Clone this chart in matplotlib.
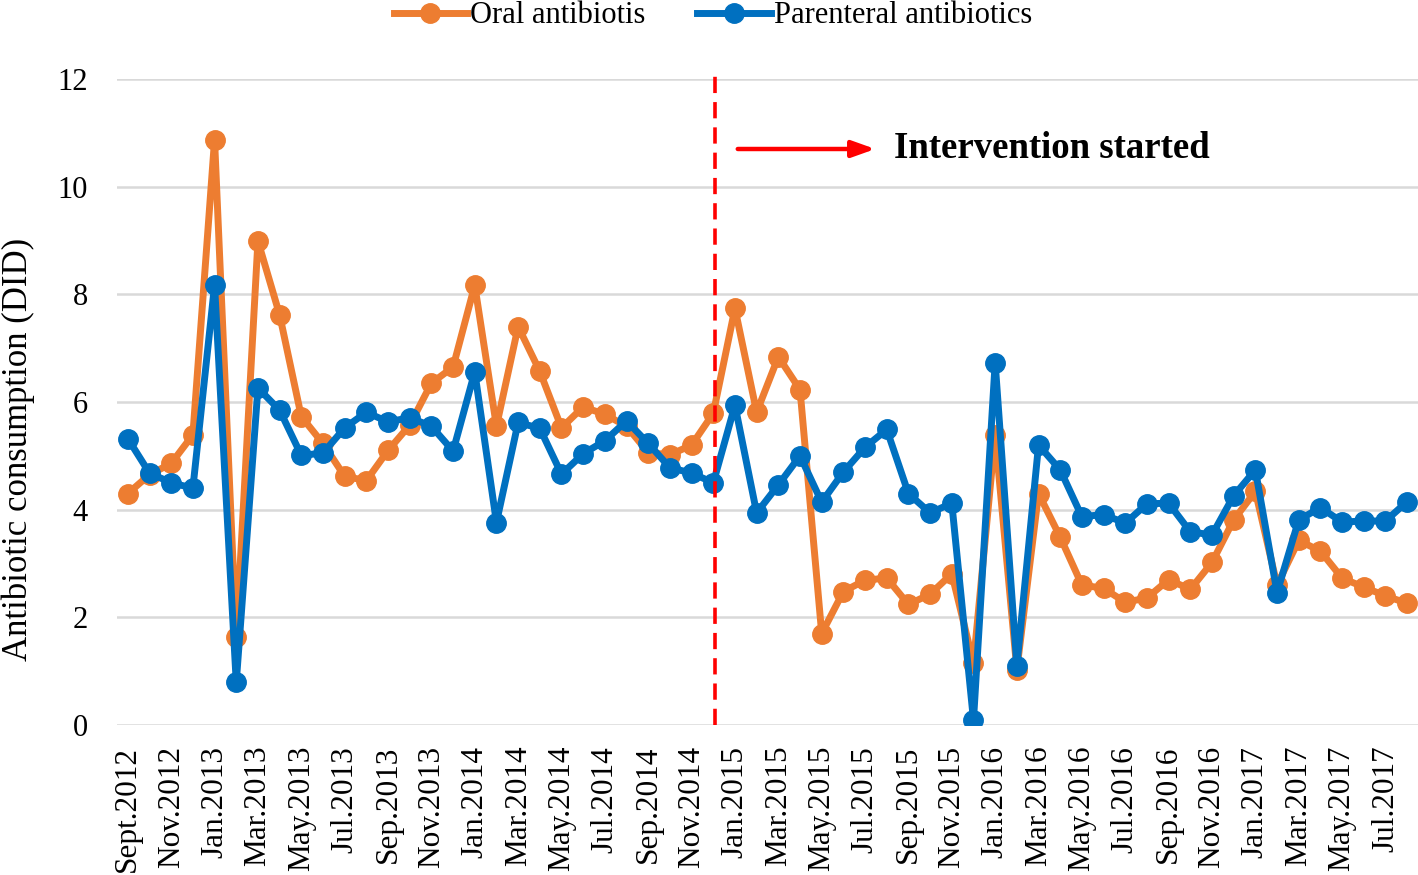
import numpy as np
import matplotlib
matplotlib.use("Agg")
import matplotlib.pyplot as plt

plt.rcParams['font.family'] = ['Liberation Serif', 'DejaVu Serif']

# monthly values, Sept 2012 .. Aug 2017
oral = [4.30, 4.65, 4.86, 5.39,
        10.87, 1.64, 8.99, 7.62, 5.73, 5.23, 4.62, 4.54, 5.10, 5.57, 6.35, 6.65,
        8.17, 5.55, 7.40, 6.57, 5.52, 5.91, 5.77, 5.55, 5.06, 5.02, 5.20, 5.79,
        7.74, 5.81, 6.84, 6.23, 1.70, 2.48, 2.69, 2.73, 2.24, 2.43, 2.81, 1.15,
        5.39, 1.03, 4.30, 3.49, 2.60, 2.54, 2.28, 2.36, 2.70, 2.52, 3.02, 3.81,
        4.34, 2.60, 3.43, 3.23, 2.73, 2.56, 2.40, 2.26]
parenteral = [5.32, 4.68, 4.50, 4.40,
              8.17, 0.79, 6.26, 5.85, 5.01, 5.05, 5.52, 5.81, 5.63, 5.71, 5.55, 5.09,
              6.56, 3.76, 5.62, 5.51, 4.66, 5.04, 5.28, 5.65, 5.23, 4.78, 4.68, 4.50,
              5.94, 3.94, 4.46, 5.00, 4.14, 4.70, 5.16, 5.49, 4.30, 3.94, 4.12, 0.09,
              6.73, 1.10, 5.20, 4.74, 3.87, 3.91, 3.75, 4.11, 4.12, 3.59, 3.53, 4.26,
              4.74, 2.46, 3.81, 4.04, 3.77, 3.79, 3.79, 4.15]
tick_labels = ["Sept.2012", "Nov.2012",
               "Jan.2013", "Mar.2013", "May.2013", "Jul.2013", "Sep.2013", "Nov.2013",
               "Jan.2014", "Mar.2014", "May.2014", "Jul.2014", "Sep.2014", "Nov.2014",
               "Jan.2015", "Mar.2015", "May.2015", "Jul.2015", "Sep.2015", "Nov.2015",
               "Jan.2016", "Mar.2016", "May.2016", "Jul.2016", "Sep.2016", "Nov.2016",
               "Jan.2017", "Mar.2017", "May.2017", "Jul.2017"]
intervention_pos = 27.1

orange = '#ED7D31'
blue = '#0070C0'

x = np.arange(len(oral))

fig = plt.figure(figsize=(14.18, 8.75), dpi=100)
ax = fig.add_axes([0.0825, 0.1714, 0.9175, 0.7383])

ax.plot(x, oral, color=orange, lw=5, marker='o', ms=14, label='Oral antibiotis', zorder=3)
ax.plot(x, parenteral, color=blue, lw=5, marker='o', ms=14, label='Parenteral antibiotics', zorder=4)

ax.set_xlim(-0.5, len(oral) - 0.5)
ax.set_ylim(0, 12)
ax.set_yticks(np.arange(0, 13, 2))
ax.set_xticks(x[::2])
ax.set_xticklabels(tick_labels, rotation=90, fontsize=22.5)
ax.tick_params(axis='y', labelsize=22, length=0, pad=21)
ax.tick_params(axis='x', length=0, pad=15)
ax.grid(axis='y', color='#D9D9D9', lw=1.8)
ax.set_axisbelow(True)
for s in ax.spines.values():
    s.set_visible(False)

ax.set_ylabel('Antibiotic consumption (DID)', fontsize=25)
ax.yaxis.set_label_coords(-0.063, 0.426)

# intervention marker
ax.plot([intervention_pos, intervention_pos], [0, 12.1], color='#FF0000', lw=2.6,
        ls=(0, (4.5, 2.5)), clip_on=False, zorder=5)
ax.annotate('', xy=(34.6, 10.7), xytext=(28.0, 10.7),
            arrowprops=dict(arrowstyle='-|>,head_length=1.4,head_width=0.5',
                            color='#FF0000', lw=3.2))
ax.text(35.35, 10.7, 'Intervention started', fontsize=26.5, fontweight='bold',
        va='center', ha='left')

ax.legend(loc='center', bbox_to_anchor=(0.458, 1.098), ncol=2, frameon=False,
          fontsize=22, handlelength=2.4, handletextpad=0.1, columnspacing=1.7,
          borderaxespad=0.0)

fig.savefig('out.png', dpi=100)
